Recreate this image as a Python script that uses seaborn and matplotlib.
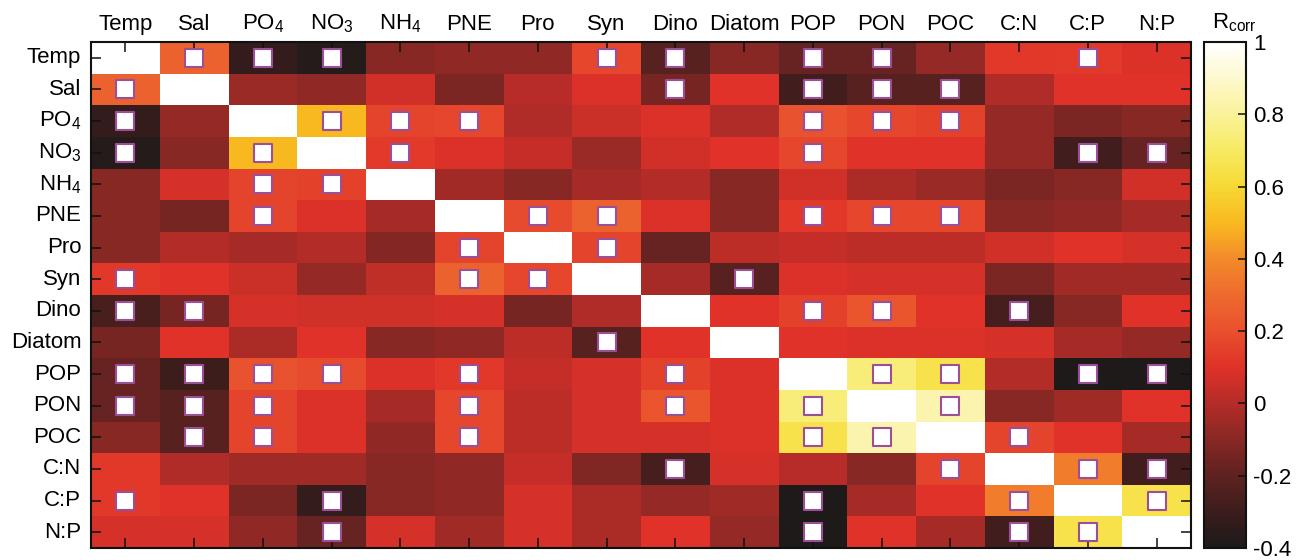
import numpy as np
import pandas as pd
import matplotlib
matplotlib.use("Agg")
import matplotlib.pyplot as plt
import seaborn as sns
from matplotlib.colors import LinearSegmentedColormap

# ---------------- data ----------------
variables = ["Temp", "Sal", "PO4", "NO3", "NH4", "PNE", "Pro", "Syn", "Dino",
             "Diatom", "POP", "PON", "POC", "C:N", "C:P", "N:P"]
tick_labels = ["Temp", "Sal", "PO$_4$", "NO$_3$", "NH$_4$", "PNE", "Pro", "Syn",
               "Dino", "Diatom", "POP", "PON", "POC", "C:N", "C:P", "N:P"]

#            Temp   Sal    PO4    NO3    NH4    PNE    Pro    Syn    Dino   Diat   POP    PON    POC    C:N    C:P    N:P
r_temp   = [1.00,  0.27, -0.32, -0.37, -0.10, -0.08, -0.08,  0.17, -0.22, -0.10, -0.18, -0.18, -0.07,  0.12,  0.13,  0.09]
r_sal    = [0.27,  1.00, -0.06, -0.08,  0.07, -0.13,  0.01,  0.09, -0.14,  0.10, -0.28, -0.22, -0.22, -0.01,  0.10,  0.10]
r_po4    = [-0.32, -0.07, 1.00,  0.50,  0.16,  0.17, -0.01,  0.05,  0.09, -0.01,  0.21,  0.17,  0.15, -0.07, -0.13, -0.10]
r_no3    = [-0.37, -0.10, 0.50,  1.00,  0.13,  0.09,  0.04, -0.06,  0.07,  0.10,  0.17,  0.10,  0.10, -0.07, -0.28, -0.18]
r_nh4    = [-0.10,  0.08, 0.16,  0.15,  1.00, -0.04, -0.10, -0.03,  0.00, -0.10,  0.07, -0.02, -0.06, -0.13, -0.10,  0.07]
r_pne    = [-0.10, -0.14, 0.16,  0.09, -0.03,  1.00,  0.18,  0.27,  0.09, -0.10,  0.12,  0.17,  0.17, -0.10, -0.08, -0.03]
r_pro    = [-0.10,  0.00, -0.03, 0.00, -0.11,  0.16,  1.00,  0.16, -0.18,  0.02,  0.04,  0.02,  0.02,  0.07,  0.10,  0.08]
r_syn    = [0.12,  0.10,  0.05, -0.07,  0.03,  0.27,  0.17,  1.00, -0.03, -0.22,  0.09,  0.08,  0.08, -0.13, -0.04, -0.04]
r_dino   = [-0.26, -0.14, 0.08,  0.06,  0.06,  0.08, -0.14, -0.01,  1.00,  0.10,  0.15,  0.22,  0.10, -0.27, -0.10,  0.10]
r_diatom = [-0.14,  0.10, -0.02, 0.10, -0.10, -0.08,  0.02, -0.22,  0.10,  1.00,  0.10,  0.09,  0.09,  0.08, -0.03, -0.07]
r_pop    = [-0.18, -0.30, 0.21,  0.18,  0.09,  0.12,  0.04,  0.08,  0.15,  0.09,  1.00,  0.74,  0.65,  0.00, -0.39, -0.39]
r_pon    = [-0.18, -0.22, 0.16,  0.09, -0.03,  0.17,  0.02,  0.08,  0.22,  0.09,  0.74,  1.00,  0.84, -0.10, -0.05,  0.10]
r_poc    = [-0.10, -0.22, 0.16,  0.09, -0.08,  0.17,  0.02,  0.08,  0.08,  0.09,  0.65,  0.84,  1.00,  0.16,  0.10, -0.03]
r_cn     = [0.12, -0.01, -0.05, -0.05, -0.10, -0.08,  0.04, -0.12, -0.27,  0.08,  0.01, -0.10,  0.16,  1.00,  0.36, -0.28]
r_cp     = [0.12,  0.10, -0.13, -0.32, -0.10, -0.08,  0.08, -0.02, -0.07, -0.05, -0.39, -0.03,  0.10,  0.36,  1.00,  0.65]
r_np     = [0.08,  0.08, -0.08, -0.18,  0.08, -0.05,  0.08, -0.02,  0.10, -0.07, -0.39,  0.10, -0.03, -0.28,  0.65,  1.00]

# significant correlations (marked with squares), per row
s_temp   = ["Sal", "PO4", "NO3", "Syn", "Dino", "POP", "PON", "C:P"]
s_sal    = ["Temp", "Dino", "POP", "PON", "POC"]
s_po4    = ["Temp", "NO3", "NH4", "PNE", "POP", "PON", "POC"]
s_no3    = ["Temp", "PO4", "NH4", "POP", "C:P", "N:P"]
s_nh4    = ["PO4", "NO3"]
s_pne    = ["PO4", "Pro", "Syn", "POP", "PON", "POC"]
s_pro    = ["PNE", "Syn"]
s_syn    = ["Temp", "PNE", "Pro", "Diatom"]
s_dino   = ["Temp", "Sal", "POP", "PON", "C:N"]
s_diatom = ["Syn"]
s_pop    = ["Temp", "Sal", "PO4", "NO3", "PNE", "Dino", "PON", "POC", "C:P", "N:P"]
s_pon    = ["Temp", "Sal", "PO4", "PNE", "Dino", "POP", "POC"]
s_poc    = ["Sal", "PO4", "PNE", "POP", "PON", "C:N"]
s_cn     = ["Dino", "POC", "C:P", "N:P"]
s_cp     = ["Temp", "NO3", "POP", "C:N", "N:P"]
s_np     = ["NO3", "POP", "C:N", "C:P"]

cbar_ticks = [-0.4, -0.2, 0, 0.2, 0.4, 0.6, 0.8, 1]
cbar_ticklabels = ["-0.4", "-0.2", "0", "0.2", "0.4", "0.6", "0.8", "1"]

rows = [r_temp, r_sal, r_po4, r_no3, r_nh4, r_pne, r_pro, r_syn, r_dino,
        r_diatom, r_pop, r_pon, r_poc, r_cn, r_cp, r_np]
sig_rows = [s_temp, s_sal, s_po4, s_no3, s_nh4, s_pne, s_pro, s_syn, s_dino,
            s_diatom, s_pop, s_pon, s_poc, s_cn, s_cp, s_np]
df = pd.DataFrame(rows, index=variables, columns=variables)

# ---------------- style ----------------
plt.rcParams["font.family"] = ["Liberation Sans", "DejaVu Sans"]
plt.rcParams["mathtext.fontset"] = "custom"
plt.rcParams["mathtext.rm"] = "Liberation Sans"
plt.rcParams["mathtext.it"] = "Liberation Sans:italic"
plt.rcParams["mathtext.bf"] = "Liberation Sans:bold"

vmin, vmax = -0.4, 1.0
stops = [(-0.4, "#1c1a1a"), (-0.3, "#3c1d1c"), (-0.2, "#5e2220"), (-0.1, "#882824"),
         (0.0, "#b42c28"), (0.1, "#e03228"), (0.2, "#e9502e"), (0.3, "#ee6a2e"),
         (0.4, "#f28a2a"), (0.5, "#f8b820"), (0.6, "#f6d835"), (0.7, "#f7ea60"),
         (0.8, "#faf29a"), (0.9, "#fdf8cc"), (1.0, "#ffffff")]
cmap = LinearSegmentedColormap.from_list(
    "hotlike", [((v - vmin) / (vmax - vmin), c) for v, c in stops])

W, H = 1299, 560
fig = plt.figure(figsize=(W / 100, H / 100), dpi=100)
ax = fig.add_axes([91 / W, 12 / H, 1100 / W, 506 / H])
cax = fig.add_axes([1204 / W, 12 / H, 42 / W, 506 / H])

sns.heatmap(df, ax=ax, cbar_ax=cax, cmap=cmap, vmin=vmin, vmax=vmax,
            xticklabels=tick_labels, yticklabels=tick_labels)

# significance markers
xs, ys = [], []
for i, sig in enumerate(sig_rows):
    for name in sig:
        xs.append(variables.index(name) + 0.5)
        ys.append(i + 0.5)
ax.scatter(xs, ys, marker="s", s=12.5 ** 2, facecolor="white",
           edgecolor="#9b4f99", linewidth=1.5, zorder=3)
ax.set_xlim(0, len(variables))
ax.set_ylim(len(variables), 0)

for sp in ax.spines.values():
    sp.set_visible(True)
    sp.set_linewidth(1.5)
    sp.set_color("#111111")

ax.tick_params(axis="x", top=True, bottom=True, labeltop=True, labelbottom=False,
               direction="in", length=7, width=1.1, labelsize=16, pad=5,
               color="#111111")
ax.tick_params(axis="y", left=True, right=True, labelleft=True, direction="in",
               length=7, width=1.1, labelsize=16, pad=7, color="#111111")
plt.setp(ax.get_xticklabels(), rotation=0)
plt.setp(ax.get_yticklabels(), rotation=0)
ax.set_xlabel("")
ax.set_ylabel("")

cb = ax.collections[0].colorbar
cb.outline.set_linewidth(1.5)
cb.outline.set_edgecolor("#111111")
cb.set_ticks(cbar_ticks)
cb.set_ticklabels(cbar_ticklabels)
cax.tick_params(direction="in", length=6, width=1.1, labelsize=16, right=True,
                pad=5, color="#111111")
cax.text(0.18, 1.015, r"R$_\mathregular{corr}$", transform=cax.transAxes,
         ha="left", va="bottom", fontsize=16)

fig.savefig("out.png", dpi=100)
